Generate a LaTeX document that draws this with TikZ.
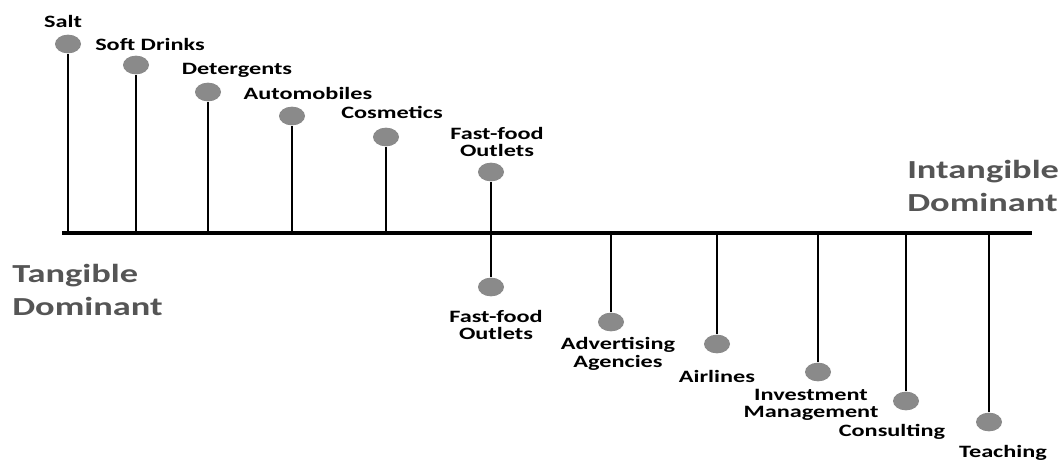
\documentclass[tikz,border=0pt]{standalone}
\usepackage{fontspec}
\newfontfamily\lblfont[FakeStretch=1.4]{Carlito Bold}
\usetikzlibrary{positioning, shapes.geometric}
\definecolor{dotgray}{HTML}{8A8A8A}
\definecolor{txtgray}{HTML}{555555}

\begin{document}
\begin{tikzpicture}[x=0.75pt, y=-0.75pt,
    dot/.style = {ellipse, fill=dotgray, minimum width=19.5pt, minimum height=14pt, inner sep=0pt},
    lbl/.style = {font=\lblfont\fontsize{13}{13}\selectfont, align=center, inner sep=0pt},
    big/.style = {font=\lblfont\fontsize{19.5}{25}\selectfont, text=txtgray, align=left, anchor=west, inner sep=0pt},
    stem/.style = {line width=1.5pt}]
      \useasboundingbox (0,0) rectangle (1064,460);

      % the scale
      \coordinate (left)  at (62,233);
      \coordinate (right) at (1032,233);
      \draw[line width=3pt] (left) -- (right);

      % goods, above the line
      \node[dot] (salt)    at (68,44)   {};
      \node[dot] (drinks)  at (136,65)  {};
      \node[dot] (deterg)  at (208,92)  {};
      \node[dot] (auto)    at (292,116) {};
      \node[dot] (cosm)    at (386,137) {};
      \node[dot] (fastup)  at (491,172) {};

      % services, below the line
      \node[dot] (fastdn)  at (491,287) {};
      \node[dot] (advert)  at (611,322) {};
      \node[dot] (air)     at (717,344) {};
      \node[dot] (invest)  at (818,372) {};
      \node[dot] (consult) at (906,401) {};
      \node[dot] (teach)   at (989,422) {};

      \path[stem]
      (68,233)  edge (salt)
      (136,233) edge (drinks)
      (208,233) edge (deterg)
      (292,233) edge (auto)
      (386,233) edge (cosm)
      (491,233) edge (fastup)
      (491,233) edge (fastdn)
      (611,233) edge (advert)
      (717,233) edge (air)
      (818,233) edge (invest)
      (906,233) edge (consult)
      (989,233) edge (teach);

      \node[lbl] at (63,21)   {Salt};
      \node[lbl] at (150,44)  {Soft Drinks};
      \node[lbl] at (237,70)  {Detergents};
      \node[lbl] at (308,93)  {Automobiles};
      \node[lbl] at (392,112) {Cosmetics};
      \node[lbl] at (497,142) {Fast-food\\Outlets};
      \node[lbl] at (496,325) {Fast-food\\Outlets};
      \node[lbl] at (618,354) {Advertising\\Agencies};
      \node[lbl] at (717,376) {Airlines};
      \node[lbl] at (811,405) {Investment\\Management};
      \node[lbl] at (892,432) {Consulting};
      \node[lbl] at (1003,453) {Teaching};

      \node[big] at (12,290)  {Tangible\\Dominant};
      \node[big] at (907,186) {Intangible\\Dominant};
\end{tikzpicture}
\end{document}
